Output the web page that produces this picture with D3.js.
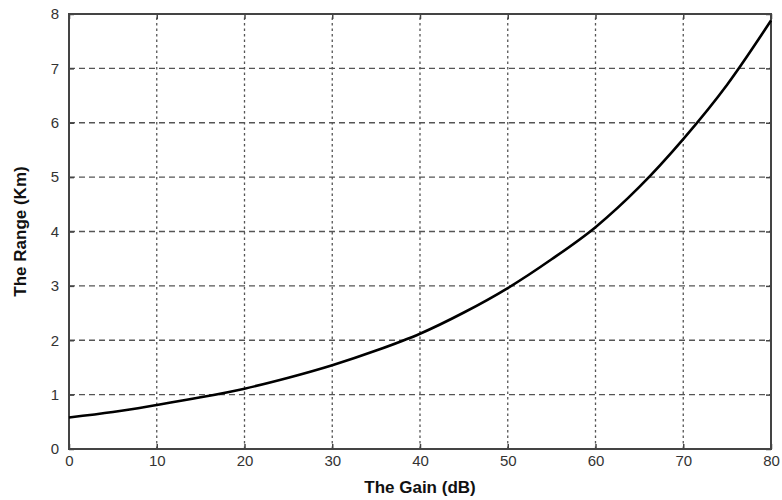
<!DOCTYPE html>
<html>
<head>
<meta charset="utf-8">
<script src="https://cdn.jsdelivr.net/npm/d3@7"></script>
<style>
  html, body { margin: 0; padding: 0; background: #fff; }
  svg { display: block; }
</style>
</head>
<body>
<svg id="chart" width="782" height="500"></svg>
<script>
// Detection range versus antenna gain
const gainDb = [0, 5, 10, 15, 20, 25, 30, 35, 40, 45, 50, 55, 60, 65, 70, 75, 80];
const rangeKm = [0.58, 0.68, 0.81, 0.95, 1.11, 1.31, 1.54, 1.81, 2.12, 2.51, 2.96, 3.49, 4.08, 4.82, 5.70, 6.70, 7.88];
const xTicks = [0, 10, 20, 30, 40, 50, 60, 70, 80];
const yTicks = [0, 1, 2, 3, 4, 5, 6, 7, 8];
const xTitle = "The Gain (dB)";
const yTitle = "The Range (Km)";

const svg = d3.select("#chart");
const m = { left: 69, right: 11, top: 14, bottom: 51 };
const W = 782, H = 500;
const x = d3.scaleLinear().domain([0, 80]).range([m.left, W - m.right]);
const y = d3.scaleLinear().domain([0, 8]).range([H - m.bottom, m.top]);

const gridColor = "#555";
const axisColor = "#444";

// Grid: dashed horizontals, dotted verticals
svg.append("g").selectAll("line").data(yTicks.slice(1, -1)).join("line")
  .attr("x1", x(0)).attr("x2", x(80))
  .attr("y1", d => y(d)).attr("y2", d => y(d))
  .attr("stroke", gridColor).attr("stroke-width", 1.3)
  .attr("stroke-dasharray", "6,4");
svg.append("g").selectAll("line").data(xTicks.slice(1, -1)).join("line")
  .attr("x1", d => x(d)).attr("x2", d => x(d))
  .attr("y1", y(0)).attr("y2", y(8))
  .attr("stroke", gridColor).attr("stroke-width", 1.3)
  .attr("stroke-dasharray", "2.5,3");

// Inward tick marks on all four sides
const tickLen = 5;
const axes = [
  d3.axisBottom(x).tickValues(xTicks).tickSize(-tickLen).tickFormat(d3.format("d")),
  d3.axisTop(x).tickValues(xTicks).tickSize(-tickLen).tickFormat(""),
  d3.axisLeft(y).tickValues(yTicks).tickSize(-tickLen).tickFormat(d3.format("d")),
  d3.axisRight(y).tickValues(yTicks).tickSize(-tickLen).tickFormat("")
];
const pos = [
  `translate(0,${y(0)})`, `translate(0,${y(8)})`,
  `translate(${x(0)},0)`, `translate(${x(80)},0)`
];
const axisGroups = axes.map((ax, i) => {
  const g = svg.append("g").attr("transform", pos[i]).call(ax);
  g.select(".domain").remove();
  g.selectAll(".tick line").attr("stroke", axisColor).attr("stroke-width", 1.5);
  g.selectAll("text")
    .attr("font-family", "Liberation Sans, Arial, sans-serif")
    .attr("font-size", 15).attr("fill", "#333");
  return g;
});
axisGroups[0].selectAll("text").attr("y", 4).attr("dy", "0.85em");
axisGroups[2].selectAll("text").attr("x", -10);

// Plot frame
svg.append("rect")
  .attr("x", x(0)).attr("y", y(8))
  .attr("width", x(80) - x(0)).attr("height", y(0) - y(8))
  .attr("fill", "none").attr("stroke", axisColor).attr("stroke-width", 2);

// Range curve
const line = d3.line().x((d, i) => x(gainDb[i])).y(d => y(d)).curve(d3.curveMonotoneX);
svg.append("path").datum(rangeKm)
  .attr("d", line)
  .attr("fill", "none").attr("stroke", "#000").attr("stroke-width", 2.6);

// Axis titles
svg.append("text")
  .attr("x", (x(0) + x(80)) / 2).attr("y", 493)
  .attr("text-anchor", "middle")
  .attr("font-family", "Liberation Sans, Arial, sans-serif")
  .attr("font-size", 17).attr("font-weight", "bold").attr("fill", "#111")
  .text(xTitle);
svg.append("text")
  .attr("transform", `translate(26,${(y(0) + y(8)) / 2}) rotate(-90)`)
  .attr("text-anchor", "middle")
  .attr("font-family", "Liberation Sans, Arial, sans-serif")
  .attr("font-size", 17).attr("font-weight", "bold").attr("fill", "#111")
  .text(yTitle);
</script>
</body>
</html>
